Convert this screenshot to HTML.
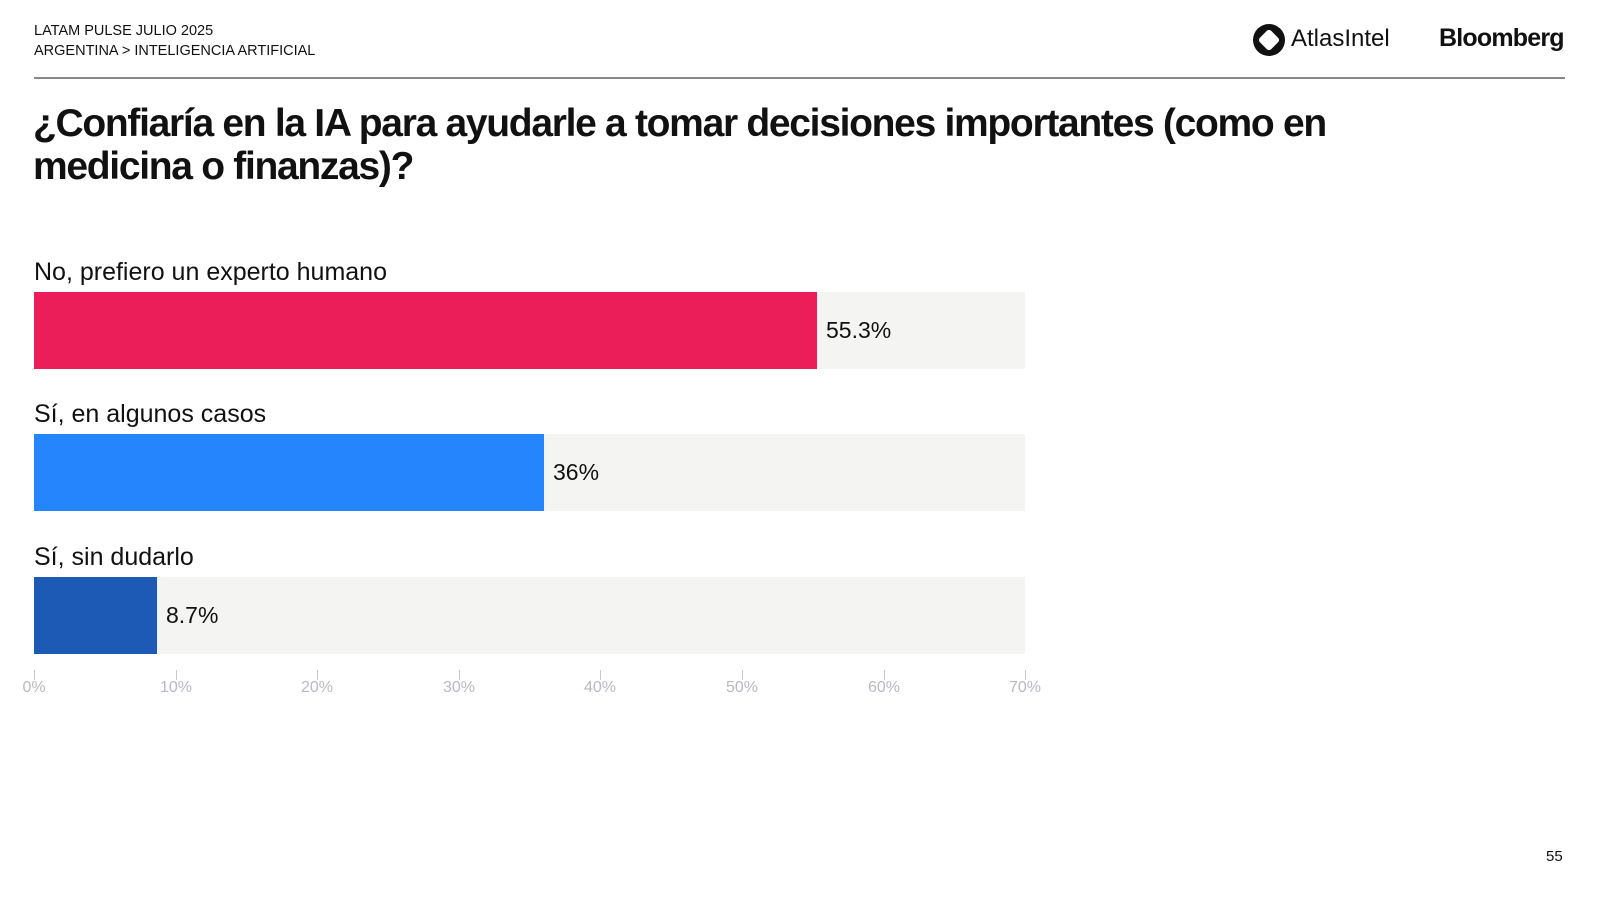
<!DOCTYPE html>
<html><head><meta charset="utf-8"><style>
body{margin:0;width:1600px;height:900px;background:#fff;font-family:"Liberation Sans",sans-serif;position:relative;overflow:hidden;color:#111}
.a{position:absolute;white-space:nowrap}
.hd{font-size:14.5px;left:34px}
.lbl{font-size:25px;left:34px}
.track{position:absolute;left:34px;width:991px;height:77px;background:#f4f4f3}
.bar{position:absolute;left:0;top:0;height:77px}
.val{position:absolute;top:0;line-height:77px;font-size:23px}
.tick{position:absolute;top:670px;width:1px;height:10px;background:#c8c8cc}
.tl{position:absolute;top:679px;font-size:16px;color:#b8b9c2;width:60px;text-align:center}
</style></head><body>
<div class="a hd" style="top:23px">LATAM PULSE JULIO 2025</div>
<div class="a hd" style="top:43px">ARGENTINA &gt; INTELIGENCIA ARTIFICIAL</div>
<div class="a" style="left:1253px;top:24px;width:32px;height:32px;border-radius:50%;background:#111"></div>
<div class="a" style="left:1261px;top:32px;width:16px;height:16px;background:#fff;transform:rotate(45deg);border-radius:3px"></div>
<div class="a" style="left:1291px;top:25px;font-size:24px;color:#111">AtlasIntel</div>
<div class="a" style="left:1439px;top:24px;font-size:25px;font-weight:bold;letter-spacing:-0.8px">Bloomberg</div>
<div class="a" style="left:34px;top:77px;width:1531px;height:2px;background:#888"></div>
<div class="a" style="left:33px;top:102px;font-size:39px;font-weight:bold;letter-spacing:-1.3px;line-height:43px">¿Confiaría en la IA para ayudarle a tomar decisiones importantes (como en<br>medicina o finanzas)?</div>
<div class="a lbl" style="top:258px">No, prefiero un experto humano</div>
<div class="track" style="top:292px"><div class="bar" style="width:783px;background:#ec1e5a"></div><div class="val" style="left:792px">55.3%</div></div>
<div class="a lbl" style="top:400px">Sí, en algunos casos</div>
<div class="track" style="top:434px"><div class="bar" style="width:510px;background:#2485fc"></div><div class="val" style="left:519px">36%</div></div>
<div class="a lbl" style="top:543px">Sí, sin dudarlo</div>
<div class="track" style="top:577px"><div class="bar" style="width:123px;background:#1c5ab5"></div><div class="val" style="left:132px">8.7%</div></div>
<div class="tick" style="left:34px"></div><div class="tl" style="left:4px">0%</div>
<div class="tick" style="left:176px"></div><div class="tl" style="left:146px">10%</div>
<div class="tick" style="left:317px"></div><div class="tl" style="left:287px">20%</div>
<div class="tick" style="left:459px"></div><div class="tl" style="left:429px">30%</div>
<div class="tick" style="left:600px"></div><div class="tl" style="left:570px">40%</div>
<div class="tick" style="left:742px"></div><div class="tl" style="left:712px">50%</div>
<div class="tick" style="left:884px"></div><div class="tl" style="left:854px">60%</div>
<div class="tick" style="left:1025px"></div><div class="tl" style="left:995px">70%</div>
<div class="a" style="left:1546px;top:848px;font-size:15px">55</div>
</body></html>
